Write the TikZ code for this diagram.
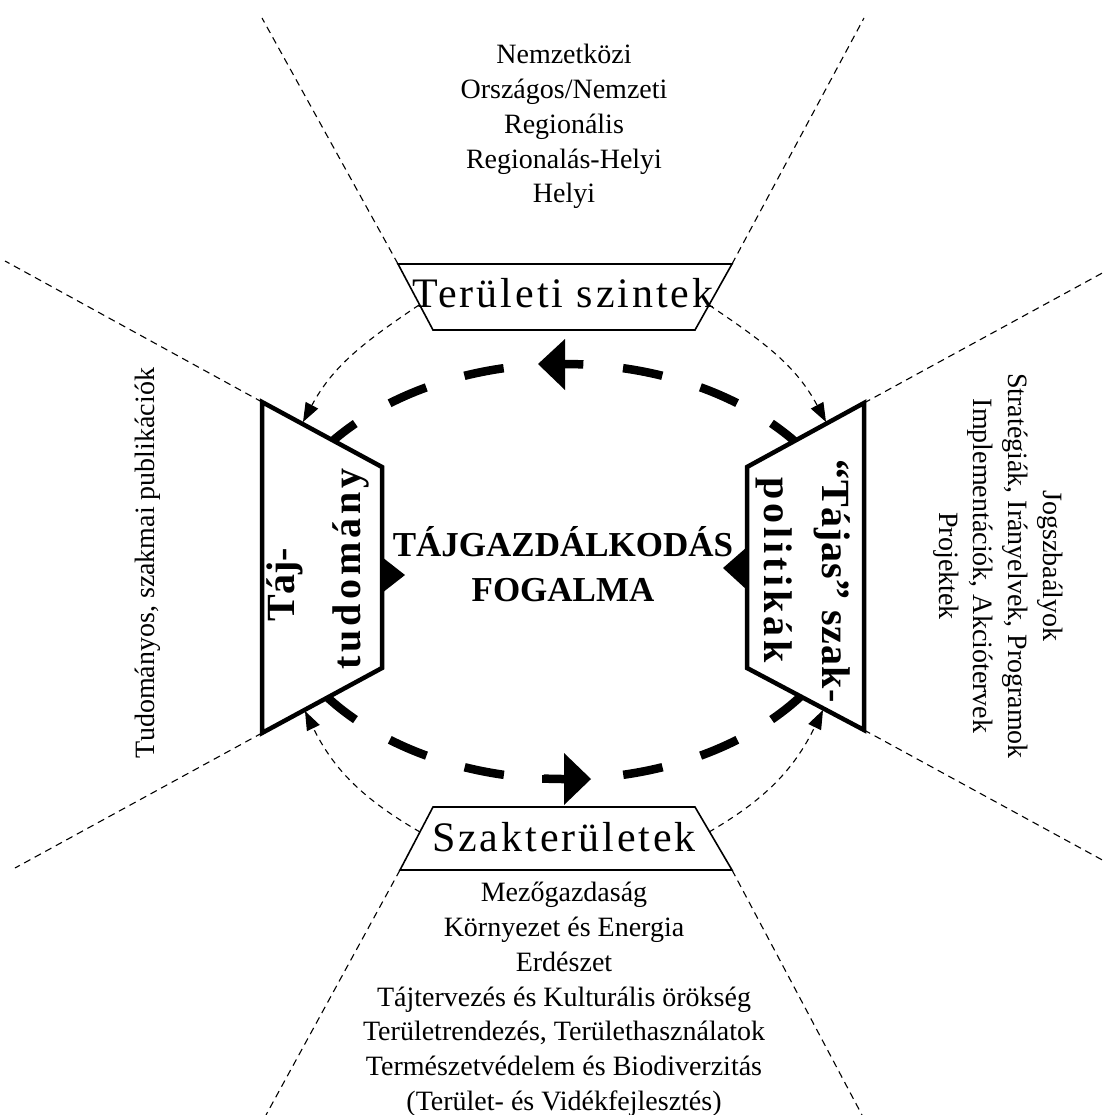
\documentclass[tikz,border=0pt]{standalone}
\usepackage{fontspec}
\setmainfont{Liberation Serif}
\usetikzlibrary{arrows.meta}
\begin{document}
\begin{tikzpicture}[x=1pt,y=-1pt,
  radial/.style={dash pattern=on 7pt off 5pt, line width=1.1pt},
  flow/.style={dash pattern=on 6pt off 5pt, line width=1.1pt, -{Triangle[length=19pt,width=14pt]}},
  sidebox/.style={line width=4.5pt, fill=white, line join=miter},
  levelbox/.style={line width=1.6pt, fill=white},
  listtext/.style={font=\fontsize{28}{34.8}\selectfont, align=center, inner sep=0pt},
  sidetext/.style={font=\bfseries\fontsize{40}{44}\selectfont\addfontfeatures{LetterSpace=#1}, inner sep=0pt},
  sidetext/.default=0,
  boxtext/.style={font=\fontsize{42}{46}\selectfont\addfontfeatures{LetterSpace=7}, inner sep=0pt},
  cycledash/.style={line width=8.5pt, dash pattern=on 40pt off 39.87pt, dash phase=20pt}
]
\useasboundingbox[fill=white] (0,0) rectangle (1106,1115);

% corner coordinates
\coordinate (t1) at (398,264); \coordinate (t2) at (732,264);
\coordinate (t3) at (695,330); \coordinate (t4) at (433,330);
\coordinate (b1) at (433,807); \coordinate (b2) at (695,807);
\coordinate (b3) at (732,870); \coordinate (b4) at (400,870);
\coordinate (l1) at (262,402); \coordinate (l2) at (382,467);
\coordinate (l3) at (382,668); \coordinate (l4) at (262,733);
\coordinate (r1) at (864,403); \coordinate (r2) at (747,467);
\coordinate (r3) at (747,668); \coordinate (r4) at (864,730);

% outer ends of the sector lines
\coordinate (etl) at (262,18);  \coordinate (etr) at (864,18);
\coordinate (elt) at (5,261);   \coordinate (elb) at (15,868);
\coordinate (ert) at (1106,271);\coordinate (erb) at (1106,862);
\coordinate (ebl) at (266,1115);\coordinate (ebr) at (862,1115);

\draw[radial] (t1) -- (etl);
\draw[radial] (t2) -- (etr);
\draw[radial] (l1) -- (elt);
\draw[radial] (l4) -- (elb);
\draw[radial] (r1) -- (ert);
\draw[radial] (r4) -- (erb);
\draw[radial] (b4) -- (ebl);
\draw[radial] (b3) -- (ebr);

% central dashed cycle
\coordinate (c) at (563.5,571.5);
\draw[cycledash] (c) ellipse [x radius=297, y radius=207.5];
\draw[line width=8.5pt] (565,364) -- (583,364);
\fill (538,364) -- (565,339) -- (565,390) -- cycle;
\draw[line width=8.5pt] (542,779) -- (565,779);
\fill (591,779) -- (564,753) -- (564,805) -- cycle;

% boxes
\draw[levelbox] (t1) -- (t2) -- (t3) -- (t4) -- cycle;
\draw[levelbox] (b1) -- (b2) -- (b3) -- (b4) -- cycle;
\draw[sidebox] (l1) -- (l2) -- (l3) -- (l4) -- cycle;
\draw[sidebox] (r1) -- (r2) -- (r3) -- (r4) -- cycle;
\fill (382,557) -- (405,575) -- (382,593) -- cycle;
\fill (747,547) -- (723,568) -- (747,590) -- cycle;

% flows
\coordinate (f1s) at (419,305); \coordinate (f1e) at (303,422);
\coordinate (f2s) at (709,305); \coordinate (f2e) at (826,422);
\coordinate (f3s) at (420,832); \coordinate (f3e) at (305,711);
\coordinate (f4s) at (709,832); \coordinate (f4e) at (823,710);
\draw[flow] (f1s) to[out=-146, in=62] (f1e);
\draw[flow] (f2s) to[out=-34, in=118] (f2e);
\draw[flow] (f3s) to[out=150, in=-64] (f3e);
\draw[flow] (f4s) to[out=30, in=-116] (f4e);

% texts
\node[listtext, anchor=north] (levels) at (564,44) {Nemzetközi\\Országos/Nemzeti\\Regionális\\Regionalás-Helyi\\Helyi};
\node[boxtext, anchor=base] (terlabel) at (563,307) {Területi szintek};
\node[boxtext, anchor=base] (szaklabel) at (564,851) {Szakterületek};
\node[listtext, anchor=north] (fields) at (564,882) {Mezőgazdaság\\Környezet és Energia\\Erdészet\\Tájtervezés és Kulturális örökség\\Területrendezés, Területhasználatok\\Természetvédelem és Biodiverzitás\\(Terület- és Vidékfejlesztés)};
\node[listtext, rotate=90] (pubs) at (148,563) {Tudományos, szakmai publikációk};
\node[listtext, rotate=-90] (policy) at (998,566) {Jogszbaályok\\Stratégiák, Irányelvek, Programok\\Implementációk, Akciótervek\\Projektek};
\node[font=\bfseries\fontsize{35}{45}\selectfont, align=center, inner sep=0pt] (concept) at (563,564) {TÁJGAZDÁLKODÁS\\FOGALMA};
\node[sidetext, rotate=90] (taj1) at (285,585) {Táj-};
\node[sidetext=10, rotate=90] (taj2) at (351,569) {tudomány};
\node[sidetext=2, rotate=-90] (pol1) at (832,581) {“Tájas” szak-};
\node[sidetext=10, rotate=-90] (pol2) at (774,570) {politikák};
\end{tikzpicture}
\end{document}
